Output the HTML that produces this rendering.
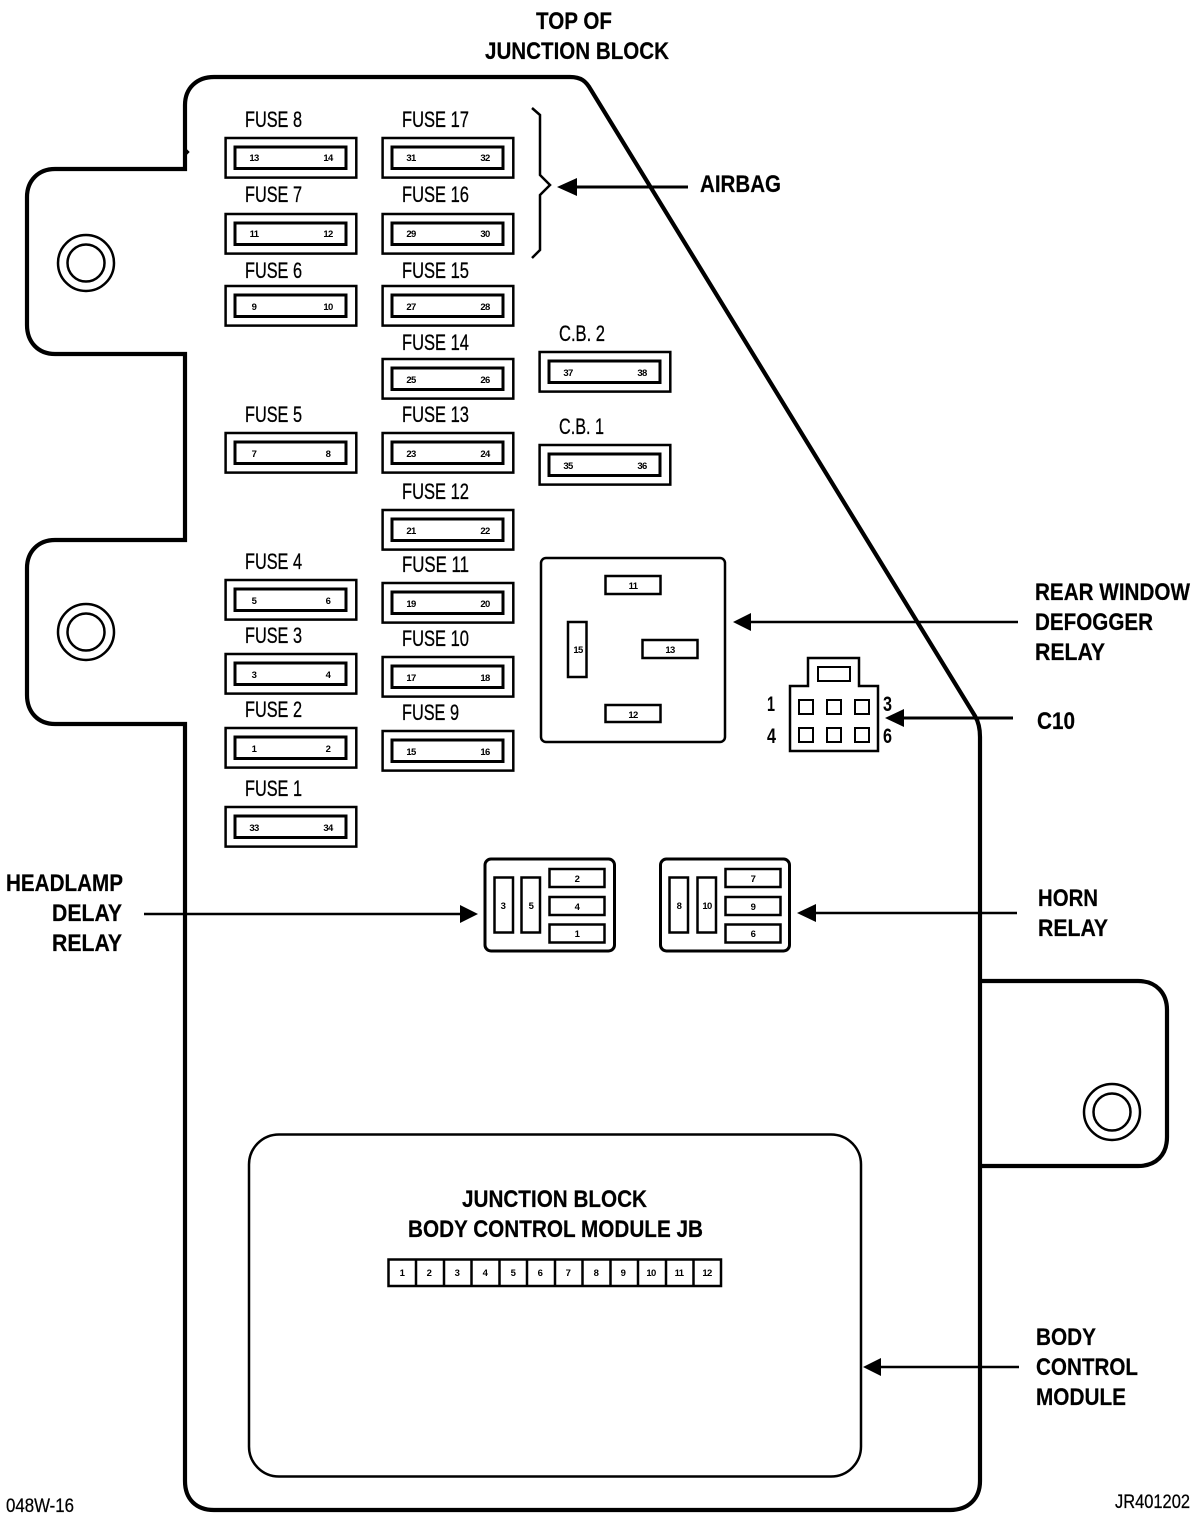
<!DOCTYPE html>
<html>
<head>
<meta charset="utf-8">
<style>
html,body{margin:0;padding:0;background:#fff;}
svg{display:block;}
text{font-family:"Liberation Sans",sans-serif;fill:#000;}
.f{font-size:22.5px;stroke:#000;stroke-width:.3px;}
.c{font-size:21px;font-weight:bold;}
.b{font-size:24px;font-weight:bold;stroke:#000;stroke-width:.2px;}
.n{font-size:9.5px;font-weight:bold;text-anchor:middle;letter-spacing:-.6px;}
</style>
</head>
<body>
<svg width="1198" height="1523" viewBox="0 0 1198 1523" xmlns="http://www.w3.org/2000/svg">
<defs>
<g id="fz"><rect x="0.6" y="1" width="130.7" height="39.6" fill="none" stroke="#000" stroke-width="2.5"/><rect x="10" y="10" width="111" height="21.500" fill="none" stroke="#000" stroke-width="3"/></g>
<g id="ring"><circle r="28" fill="none" stroke="#000" stroke-width="2.5"/><circle r="18.5" fill="none" stroke="#000" stroke-width="2.5"/></g>
</defs>
<rect width="1198" height="1523" fill="#fff"/>

<path d="M185 169V105C185 88 197 77 214 77H570C581 77 586 81 591 90L975 716C978 721 980 728 980 737V1481C980 1499 968 1510 950 1510H214C196 1510 185 1499 185 1481V724H55C38 724 27 712 27 695V568C27 552 38 540 55 540H185V354H55C38 354 27 342 27 325V197C27 181 38 169 55 169Z" fill="none" stroke="#000" stroke-width="4.2"/>
<path d="M186 149L189 152L186 155Z" fill="#000" stroke="#000" stroke-width="1"/>
<path d="M980 981H1138C1156 981 1167 993 1167 1010V1137C1167 1155 1156 1166 1138 1166H980" fill="none" stroke="#000" stroke-width="4.2"/>
<use href="#ring" x="86" y="263"/><use href="#ring" x="86" y="632"/><use href="#ring" x="1112" y="1112"/>

<use href="#fz" x="225" y="137"/><use href="#fz" x="225" y="213"/><use href="#fz" x="225" y="285"/><use href="#fz" x="225" y="432"/><use href="#fz" x="225" y="579"/><use href="#fz" x="225" y="653"/><use href="#fz" x="225" y="727"/><use href="#fz" x="225" y="806"/>
<use href="#fz" x="382" y="137"/><use href="#fz" x="382" y="213"/><use href="#fz" x="382" y="285"/><use href="#fz" x="382" y="358"/><use href="#fz" x="382" y="432"/><use href="#fz" x="382" y="509"/><use href="#fz" x="382" y="582"/><use href="#fz" x="382" y="656"/><use href="#fz" x="382" y="730"/>
<use href="#fz" x="539" y="351"/><use href="#fz" x="539" y="444"/>

<g class="labels">
<text class="f" x="245" y="127" textLength="57" lengthAdjust="spacingAndGlyphs">FUSE 8</text>
<text class="f" x="245" y="202" textLength="57" lengthAdjust="spacingAndGlyphs">FUSE 7</text>
<text class="f" x="245" y="278" textLength="57" lengthAdjust="spacingAndGlyphs">FUSE 6</text>
<text class="f" x="245" y="422" textLength="57" lengthAdjust="spacingAndGlyphs">FUSE 5</text>
<text class="f" x="245" y="569" textLength="57" lengthAdjust="spacingAndGlyphs">FUSE 4</text>
<text class="f" x="245" y="643" textLength="57" lengthAdjust="spacingAndGlyphs">FUSE 3</text>
<text class="f" x="245" y="717" textLength="57" lengthAdjust="spacingAndGlyphs">FUSE 2</text>
<text class="f" x="245" y="796" textLength="57" lengthAdjust="spacingAndGlyphs">FUSE 1</text>
<text class="f" x="402" y="127" textLength="67" lengthAdjust="spacingAndGlyphs">FUSE 17</text>
<text class="f" x="402" y="202" textLength="67" lengthAdjust="spacingAndGlyphs">FUSE 16</text>
<text class="f" x="402" y="278" textLength="67" lengthAdjust="spacingAndGlyphs">FUSE 15</text>
<text class="f" x="402" y="350" textLength="67" lengthAdjust="spacingAndGlyphs">FUSE 14</text>
<text class="f" x="402" y="422" textLength="67" lengthAdjust="spacingAndGlyphs">FUSE 13</text>
<text class="f" x="402" y="499" textLength="67" lengthAdjust="spacingAndGlyphs">FUSE 12</text>
<text class="f" x="402" y="572" textLength="67" lengthAdjust="spacingAndGlyphs">FUSE 11</text>
<text class="f" x="402" y="646" textLength="67" lengthAdjust="spacingAndGlyphs">FUSE 10</text>
<text class="f" x="402" y="720" textLength="57" lengthAdjust="spacingAndGlyphs">FUSE 9</text>
<text class="f" x="559" y="341" textLength="46" lengthAdjust="spacingAndGlyphs">C.B. 2</text>
<text class="f" x="559" y="434" textLength="45" lengthAdjust="spacingAndGlyphs">C.B. 1</text>
</g>

<g>
<text class="n" x="254" y="161">13</text><text class="n" x="328" y="161">14</text>
<text class="n" x="254" y="237">11</text><text class="n" x="328" y="237">12</text>
<text class="n" x="254" y="310">9</text><text class="n" x="328" y="310">10</text>
<text class="n" x="254" y="457">7</text><text class="n" x="328" y="457">8</text>
<text class="n" x="254" y="604">5</text><text class="n" x="328" y="604">6</text>
<text class="n" x="254" y="678">3</text><text class="n" x="328" y="678">4</text>
<text class="n" x="254" y="752">1</text><text class="n" x="328" y="752">2</text>
<text class="n" x="254" y="831">33</text><text class="n" x="328" y="831">34</text>
<text class="n" x="411" y="161">31</text><text class="n" x="485" y="161">32</text>
<text class="n" x="411" y="237">29</text><text class="n" x="485" y="237">30</text>
<text class="n" x="411" y="310">27</text><text class="n" x="485" y="310">28</text>
<text class="n" x="411" y="383">25</text><text class="n" x="485" y="383">26</text>
<text class="n" x="411" y="457">23</text><text class="n" x="485" y="457">24</text>
<text class="n" x="411" y="534">21</text><text class="n" x="485" y="534">22</text>
<text class="n" x="411" y="607">19</text><text class="n" x="485" y="607">20</text>
<text class="n" x="411" y="681">17</text><text class="n" x="485" y="681">18</text>
<text class="n" x="411" y="755">15</text><text class="n" x="485" y="755">16</text>
<text class="n" x="568" y="376">37</text><text class="n" x="642" y="376">38</text>
<text class="n" x="568" y="469">35</text><text class="n" x="642" y="469">36</text>
</g>

<path d="M532 108L540 115V175L550 185L540 195V250L532 258" fill="none" stroke="#000" stroke-width="2.5"/>

<!-- rear window defogger relay -->
<rect x="541" y="558" width="184" height="184" rx="5" fill="none" stroke="#000" stroke-width="2.5"/>
<g fill="none" stroke="#000" stroke-width="2.5">
<rect x="605.5" y="576" width="55" height="18"/>
<rect x="642.5" y="640" width="55" height="18"/>
<rect x="605.5" y="705" width="55" height="17"/>
<rect x="568" y="622" width="18.5" height="55"/>
</g>
<text class="n" x="633" y="589">11</text><text class="n" x="670" y="653">13</text><text class="n" x="633" y="718">12</text><text class="n" x="578" y="653">15</text>

<!-- C10 -->
<path d="M790 686H808V658H859V686H878V751H790Z" fill="none" stroke="#000" stroke-width="2.5"/>
<g fill="none" stroke="#000" stroke-width="2">
<rect x="818" y="667" width="32" height="14"/>
<rect x="799" y="700" width="14" height="14"/><rect x="827" y="700" width="14" height="14"/><rect x="855" y="700" width="14" height="14"/>
<rect x="799" y="728" width="14" height="14"/><rect x="827" y="728" width="14" height="14"/><rect x="855" y="728" width="14" height="14"/>
</g>
<text class="c" x="767" y="711" textLength="8" lengthAdjust="spacingAndGlyphs">1</text>
<text class="c" x="883" y="711" textLength="9" lengthAdjust="spacingAndGlyphs">3</text>
<text class="c" x="767" y="743" textLength="9" lengthAdjust="spacingAndGlyphs">4</text>
<text class="c" x="883" y="743" textLength="9" lengthAdjust="spacingAndGlyphs">6</text>

<!-- small relays -->
<rect x="485" y="859" width="129.5" height="92" rx="6" fill="none" stroke="#000" stroke-width="3"/>
<rect x="660.5" y="859" width="129" height="92" rx="6" fill="none" stroke="#000" stroke-width="3"/>
<g fill="none" stroke="#000" stroke-width="2.5">
<rect x="494.5" y="877.5" width="18.5" height="55"/><rect x="521.5" y="877.5" width="18.5" height="55"/>
<rect x="549.5" y="869" width="55" height="18"/><rect x="549.5" y="897" width="55" height="18"/><rect x="549.5" y="924.5" width="55" height="18"/>
<rect x="669.5" y="877.5" width="18.5" height="55"/><rect x="697.5" y="877.5" width="18.5" height="55"/>
<rect x="725.5" y="869" width="55" height="18"/><rect x="725.5" y="897" width="55" height="18"/><rect x="725.5" y="924.5" width="55" height="18"/>
</g>
<text class="n" x="503" y="909">3</text><text class="n" x="531" y="909">5</text><text class="n" x="577" y="882">2</text><text class="n" x="577" y="910">4</text><text class="n" x="577" y="937">1</text>
<text class="n" x="679" y="909">8</text><text class="n" x="707" y="909">10</text><text class="n" x="753" y="882">7</text><text class="n" x="753" y="910">9</text><text class="n" x="753" y="937">6</text>

<!-- module -->
<rect x="249" y="1134.5" width="612" height="342" rx="30" fill="none" stroke="#000" stroke-width="2.5"/>
<rect x="388.5" y="1259.5" width="332.5" height="26.5" fill="none" stroke="#000" stroke-width="2.5"/>
<path d="M416 1259V1286M444 1259V1286M471.500 1259V1286M499.500 1259V1286M527 1259V1286M555 1259V1286M582.500 1259V1286M610.500 1259V1286M638 1259V1286M666 1259V1286M693.500 1259V1286" stroke="#000" stroke-width="2.500" fill="none"/>
<text class="n" x="402" y="1276">1</text><text class="n" x="429" y="1276">2</text><text class="n" x="457" y="1276">3</text><text class="n" x="485" y="1276">4</text><text class="n" x="513" y="1276">5</text><text class="n" x="540" y="1276">6</text><text class="n" x="568" y="1276">7</text><text class="n" x="596" y="1276">8</text><text class="n" x="623" y="1276">9</text><text class="n" x="651" y="1276">10</text><text class="n" x="679" y="1276">11</text><text class="n" x="707" y="1276">12</text>

<!-- arrows -->
<g stroke="#000" stroke-width="2.500" fill="none">
<path d="M1018 622H750"/><path d="M1013 718H902" stroke-width="3"/><path d="M144 914H461"/><path d="M1017 913H815"/><path d="M688 187H575" stroke-width="3"/><path d="M1019 1367H880"/>
</g>
<g fill="#000">
<path d="M733 622L751 613V631Z"/><path d="M885 718L904 709V727Z"/><path d="M478 914L460 905V923Z"/><path d="M797 913L816 904V922Z"/><path d="M557 187L577 178V196Z"/><path d="M863 1367L881 1358V1376Z"/>
</g>

<!-- bold labels -->
<text class="b" x="536" y="29" textLength="76" lengthAdjust="spacingAndGlyphs">TOP OF</text>
<text class="b" x="485" y="59" textLength="184" lengthAdjust="spacingAndGlyphs">JUNCTION BLOCK</text>
<text class="b" x="700" y="192" textLength="81" lengthAdjust="spacingAndGlyphs">AIRBAG</text>
<text class="b" x="1035" y="600" textLength="155" lengthAdjust="spacingAndGlyphs">REAR WINDOW</text>
<text class="b" x="1035" y="630" textLength="118" lengthAdjust="spacingAndGlyphs">DEFOGGER</text>
<text class="b" x="1035" y="660" textLength="70" lengthAdjust="spacingAndGlyphs">RELAY</text>
<text class="b" x="1037" y="729" textLength="38" lengthAdjust="spacingAndGlyphs">C10</text>
<text class="b" x="6" y="891" textLength="117" lengthAdjust="spacingAndGlyphs">HEADLAMP</text>
<text class="b" x="52" y="921" textLength="70" lengthAdjust="spacingAndGlyphs">DELAY</text>
<text class="b" x="52" y="951" textLength="70" lengthAdjust="spacingAndGlyphs">RELAY</text>
<text class="b" x="1038" y="906" textLength="60" lengthAdjust="spacingAndGlyphs">HORN</text>
<text class="b" x="1038" y="936" textLength="70" lengthAdjust="spacingAndGlyphs">RELAY</text>
<text class="b" x="1036" y="1345" textLength="60" lengthAdjust="spacingAndGlyphs">BODY</text>
<text class="b" x="1036" y="1375" textLength="102" lengthAdjust="spacingAndGlyphs">CONTROL</text>
<text class="b" x="1036" y="1405" textLength="90" lengthAdjust="spacingAndGlyphs">MODULE</text>
<text class="b" x="462" y="1207" textLength="185" lengthAdjust="spacingAndGlyphs">JUNCTION BLOCK</text>
<text class="b" x="408" y="1237" textLength="295" lengthAdjust="spacingAndGlyphs">BODY CONTROL MODULE JB</text>
<text x="6" y="1512" textLength="68" lengthAdjust="spacingAndGlyphs" style="font-size:19px;stroke:#000;stroke-width:.25px">048W-16</text>
<text x="1115" y="1508" textLength="75" lengthAdjust="spacingAndGlyphs" style="font-size:19px;stroke:#000;stroke-width:.25px">JR401202</text>
</svg>
</body>
</html>
